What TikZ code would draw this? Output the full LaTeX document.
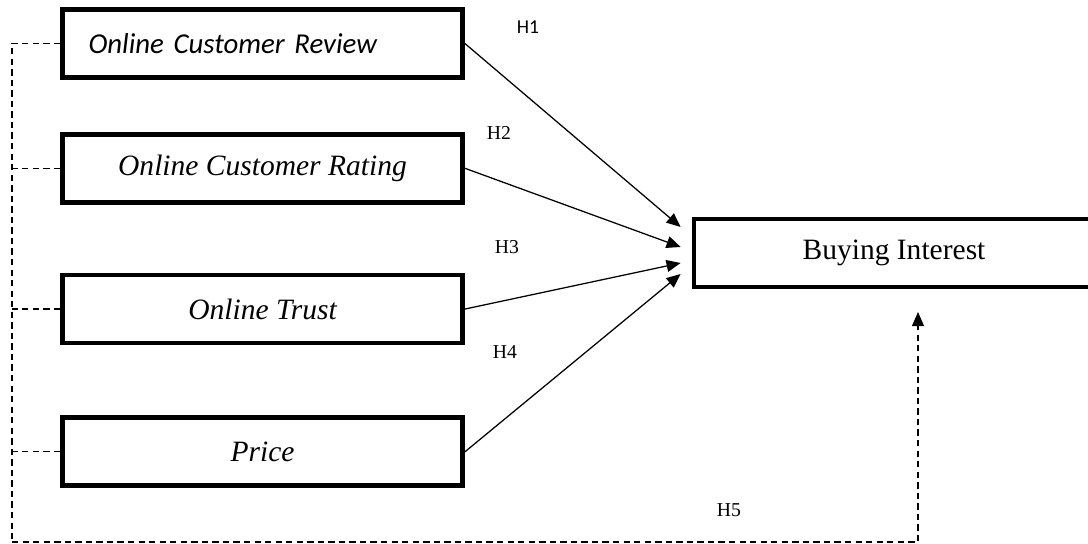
\documentclass[tikz,border=0pt]{standalone}
\usepackage{fontspec}
\setmainfont{Liberation Serif}
\newfontfamily\calibrifont{Carlito}
\usepackage{tikz}
\usetikzlibrary{arrows.meta, positioning}

\begin{document}
\begin{tikzpicture}[
    box/.style={rectangle, draw, line width=3.4pt, minimum width=10cm, minimum height=1.7cm, align=center, font=\fontsize{21}{25}\selectfont\itshape},
    target/.style={rectangle, draw, line width=3.4pt, minimum width=10cm, minimum height=1.7cm, align=center, font=\fontsize{21}{25}\selectfont},
    arrow/.style={-{Triangle[length=10pt,width=8.5pt]}, line width=0.9pt},
    dashline/.style={dash pattern=on 4.5pt off 3pt, line width=0.9pt},
    hlabel/.style={font=\fontsize{14}{16}\selectfont}
]
\useasboundingbox (0,0) rectangle (27.2,-13.6);

\node[box, text width=8.7cm, inner xsep=0.65cm, align=left, font=\calibrifont\fontsize{20.5}{24}\selectfont\itshape] (rev) at (6.5625,-1.0875) {Online Customer Review};
\node[box, below=1.3cm of rev] (rat) {Online Customer Rating};
\node[box, below=1.7cm of rat] (tru) {Online Trust};
\node[box, below=1.75cm of tru] (pri) {Price};
\node[target] (buy) at (22.35,-6.325) {Buying Interest};

% hypothesis labels
\node[hlabel, font=\calibrifont\fontsize{14}{16}\selectfont] (h1) at (13.2,-0.675) {H1};
\node[hlabel] (h2) at (12.475,-3.325) {H2};
\node[hlabel] (h3) at (12.675,-6.175) {H3};
\node[hlabel] (h4) at (12.625,-8.8) {H4};
\node[hlabel] (h5) at (18.225,-12.75) {H5};

\draw[arrow] (rev.east) -- ([xshift=-0.275cm, yshift=0.65cm]buy.west);
\draw[arrow] (rat.east) -- ([xshift=-0.275cm, yshift=0.15cm]buy.west);
\draw[arrow] (tru.east) -- ([xshift=-0.275cm, yshift=-0.25cm]buy.west);
\draw[arrow] (pri.east) -- ([xshift=-0.275cm, yshift=-0.525cm]buy.west);

% simultaneous path
\coordinate (lowleft) at (0.3,-13.55);
\coordinate (h5end) at (22.95,-7.8);
\draw[dashline] (rev.west) -| (lowleft);
\draw[dashline, -{Triangle[length=10pt,width=8.5pt]}] (lowleft) -| (h5end);
\foreach \n in {rat,tru,pri}
    \draw[dashline] (\n.west) -- (\n.west -| lowleft);
\end{tikzpicture}
\end{document}
